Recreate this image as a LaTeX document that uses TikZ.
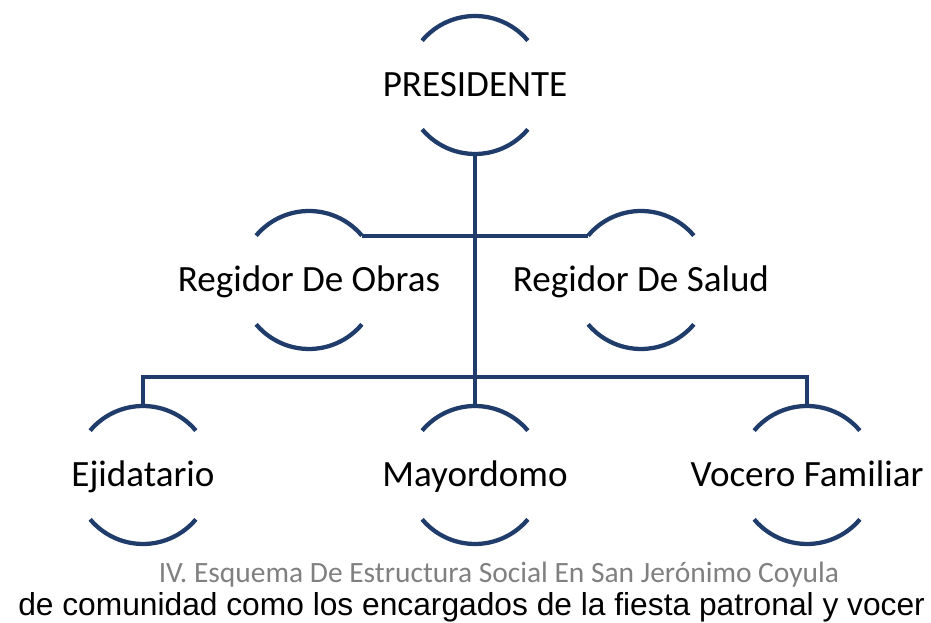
\documentclass[tikz,border=0pt]{standalone}
\usepackage{fontspec}
\setmainfont{Carlito}
\newfontfamily\arialfont{Liberation Sans}
\usetikzlibrary{calc}
\definecolor{orgblue}{RGB}{31, 60, 107}
\definecolor{capgray}{RGB}{128, 128, 128}

\begin{document}
\begin{tikzpicture}[x=0.75pt, y=0.75pt,
    role/.style={inner sep=0pt, text height=17.8pt, text depth=0pt, font=\fontsize{27.8}{33}\selectfont},
    halfarc/.style={orgblue, line width=3.2pt},
    link/.style={orgblue, line width=3.2pt}]
  \useasboundingbox (0,0) rectangle (931,623);
  \def\rr{69}

  % Roles
  \node[role] (pres) at (475,538) {PRESIDENTE};
  \node[role] (obras) at (309,343) {Regidor De Obras};
  \node[role] (salud) at (641,343) {Regidor De Salud};
  \node[role] (ejid) at (143,148) {Ejidatario};
  \node[role] (mayor) at (475,148) {Mayordomo};
  \node[role] (voc) at (807,148) {Vocero Familiar};

  % Half circles above and below each role
  \foreach \n in {pres, obras, salud, ejid, mayor, voc} {
    \draw[halfarc] ($(\n)+(40:\rr)$) arc[start angle=40, end angle=140, radius=\rr];
    \draw[halfarc] ($(\n)+(220:\rr)$) arc[start angle=220, end angle=320, radius=\rr];
    \coordinate (\n-top) at ($(\n)+(0,\rr)$);
    \coordinate (\n-bot) at ($(\n)-(0,\rr)$);
  }
  \coordinate (obras-ne) at ($(obras)+(40:\rr)$);
  \coordinate (salud-nw) at ($(salud)+(140:\rr)$);

  % Connectors
  \draw[link] (pres-bot) -- (mayor-top);
  \draw[link] (obras-ne) -- (salud-nw);
  \draw[link] (ejid-top) -- ++(0,29) -| (voc-top);

  % Caption and text below
  \node[font=\fontsize{22.1}{26}\selectfont, text=capgray, anchor=base] (caption) at (499,40)
    {IV. Esquema De Estructura Social En San Jerónimo Coyula};
  \node[font=\arialfont\fontsize{23.8}{28}\selectfont, anchor=base west, inner sep=0pt] (spill) at (18,7)
    {de comunidad como los encargados de la fiesta patronal y vocer};
\end{tikzpicture}
\end{document}
